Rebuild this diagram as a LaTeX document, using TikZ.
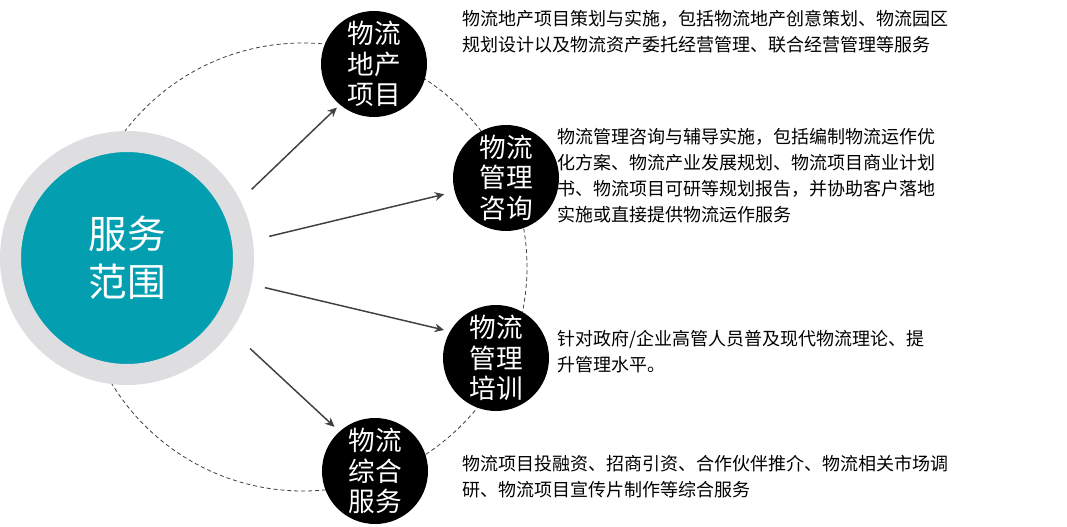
\documentclass[tikz,border=0pt]{standalone}
\usepackage{fontspec}
\setmainfont{Noto Sans CJK SC}
\definecolor{scopeTeal}{RGB}{4,158,177}
\definecolor{scopeGrey}{RGB}{222,222,225}
\definecolor{scopeArrow}{RGB}{64,64,64}
\usetikzlibrary{arrows.meta}

\begin{document}
\begin{tikzpicture}[x=0.75pt, y=-0.75pt,
  hub/.style={circle, fill=scopeTeal, draw=scopeGrey, line width=15.75pt,
              minimum size=174.75pt, inner sep=0pt, text=white, align=center,
              font=\fontsize{29pt}{36pt}\selectfont},
  item/.style={circle, fill=black, minimum size=79.5pt, inner sep=0pt,
               text=white, align=center, font=\fontsize{20pt}{23pt}\selectfont},
  desc/.style={anchor=west, align=left, inner sep=0pt,
               font=\fontsize{13.5pt}{19.5pt}\selectfont},
  arr/.style={-{Stealth[length=7pt, width=6.5pt]}, line width=1.1pt, scopeArrow},
  ring/.style={dash pattern=on 3pt off 2.2pt, line width=0.6pt, black!75}
]
  \useasboundingbox (0,0) rectangle (1067,527);

  % dashed orbit behind everything
  \coordinate (orbit) at (303,267);
  \draw[ring] (orbit) circle [radius=168pt];

  \node[hub] (scope) at (127,258) {服务\\范围};

  \node[item] (estate)  at (374,64)  {物流\\地产\\项目};
  \node[item] (consult) at (506,178) {物流\\管理\\咨询};
  \node[item] (train)   at (496,358) {物流\\管理\\培训};
  \node[item] (general) at (375,471) {物流\\综合\\服务};

  \draw[arr, shorten <=12pt, shorten >=3pt]    (scope.27.5) -- (estate.230);
  \draw[arr, shorten <=12.75pt, shorten >=8pt] (scope.8)    -- (consult.195);
  \draw[arr, shorten <=10.5pt, shorten >=4.5pt] (scope.-12) -- (train.150);
  \draw[arr, shorten <=19.5pt, shorten >=5pt]  (scope.-35)  -- (general.132);

  \node[desc] (estateTxt) at (462,31.5)
    {物流地产项目策划与实施，包括物流地产创意策划、物流园区\\
     规划设计以及物流资产委托经营管理、联合经营管理等服务};
  \node[desc] (consultTxt) at (557,176)
    {物流管理咨询与辅导实施，包括编制物流运作优\\
     化方案、物流产业发展规划、物流项目商业计划\\
     书、物流项目可研等规划报告，并协助客户落地\\
     实施或直接提供物流运作服务};
  \node[desc] (trainTxt) at (557,351.5)
    {针对政府/企业高管人员普及现代物流理论、提\\
     升管理水平。};
  \node[desc] (generalTxt) at (462,476.5)
    {物流项目投融资、招商引资、合作伙伴推介、物流相关市场调\\
     研、物流项目宣传片制作等综合服务};
\end{tikzpicture}
\end{document}
